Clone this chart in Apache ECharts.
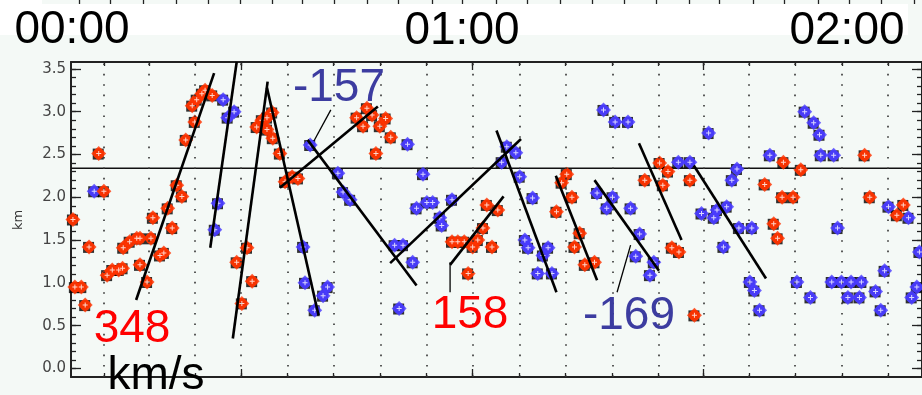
<!DOCTYPE html>
<html>
<head>
<meta charset="utf-8">
<script src="https://cdn.jsdelivr.net/npm/echarts@6/dist/echarts.min.js"></script>
<style>
  html, body { margin: 0; padding: 0; background: #f4f9f6; }
  #chart { width: 922px; height: 395px; }
</style>
</head>
<body>
<div id="chart"></div>
<script>
// x values are minutes after 00:00, y values are heights in km
const gridMinutes = [5.11, 12.08, 19.21, 26.34, 33.62, 40.75, 48.03, 55.16, 62.28,
  69.56, 76.69, 83.97, 91.10, 98.07, 105.20, 112.32, 119.61, 126.73];
const majorMinutes = [26.34, 62.28, 98.07];
const upperTicks = [1.24, 6.04, 11.15, 16.27, 21.23, 26.18, 31.14, 35.94, 40.90, 46.01,
  50.82, 56.08, 60.73, 66.00, 70.80, 75.91, 80.87, 85.83, 90.79, 95.90, 100.55,
  105.82, 110.62, 115.89, 120.69, 125.65, 130.76];
const hourLabels = ["00:00", "01:00", "02:00"];
const yLabels = [0, 0.5, 1, 1.5, 2, 2.5, 3, 3.5];
const yMinor = [0, 0.1, 0.2, 0.3, 0.4, 0.5, 0.6, 0.7, 0.8, 0.9, 1, 1.1, 1.2, 1.3, 1.4,
  1.5, 1.6, 1.7, 1.8, 1.9, 2, 2.1, 2.2, 2.3, 2.4, 2.5, 2.6, 2.7, 2.8, 2.9, 3, 3.1,
  3.2, 3.3, 3.4, 3.5];
const baseHeight = 2.34;

const redPoints = [
  [0.3, 1.74], [0.6, 0.95], [1.6, 0.95], [2.2, 0.74], [2.8, 1.42], [4.3, 2.51], [5.1, 2.07],
  [5.6, 1.09], [6.4, 1.15], [7.4, 1.15], [8.0, 1.17], [8.1, 1.41], [9.1, 1.48], [10.2, 1.52],
  [10.7, 1.52], [10.7, 1.21], [11.8, 1.01], [12.4, 1.52], [12.7, 1.76], [13.8, 1.32],
  [14.4, 1.35], [15.0, 1.87], [15.7, 1.64], [16.4, 2.14], [17.2, 2.01], [17.8, 2.67],
  [19.2, 2.88], [18.8, 3.07], [19.5, 3.14], [20.3, 3.21], [20.8, 3.25], [21.9, 3.19],
  [25.7, 1.24], [27.3, 1.41], [28.1, 1.02], [26.5, 0.76], [28.8, 2.82], [29.6, 2.90],
  [30.4, 2.93], [31.2, 2.99], [30.4, 2.79], [31.3, 2.69], [32.4, 2.51], [33.2, 2.18],
  [34.3, 2.24], [35.2, 2.22], [45.9, 3.04], [44.3, 2.93], [45.3, 2.83], [46.7, 2.96],
  [47.9, 2.83], [48.8, 2.92], [49.6, 2.70], [47.3, 2.51], [59.1, 1.48], [60.0, 1.48],
  [61.0, 1.48], [64.5, 1.91], [66.2, 1.85], [63.9, 1.64], [63.1, 1.50], [62.3, 1.42],
  [65.3, 1.42], [61.6, 1.11], [76.9, 2.27], [76.1, 2.17], [77.7, 2.00], [75.3, 1.83],
  [78.9, 1.58], [78.1, 1.42], [79.7, 1.21], [81.2, 1.24], [91.3, 2.40], [92.6, 2.30],
  [89.0, 2.20], [91.8, 2.14], [96.0, 2.20], [93.2, 1.41], [94.3, 1.36], [96.7, 0.62],
  [110.5, 2.41], [113.2, 2.32], [123.1, 2.49], [107.6, 2.15], [110.3, 2.00], [112.0, 2.00],
  [123.9, 2.00], [109.0, 1.69], [109.6, 1.52], [128.1, 1.79], [129.1, 1.91]
];

const bluePoints = [
  [3.6, 2.07], [23.6, 3.14], [24.3, 2.93], [25.3, 3.00], [22.8, 1.93], [22.3, 1.62],
  [37.1, 2.61], [36.0, 1.42], [36.3, 1.00], [37.8, 0.68], [39.1, 0.85], [39.8, 0.95],
  [41.4, 2.28], [42.2, 2.06], [43.3, 1.97], [52.2, 2.62], [54.6, 2.27], [53.6, 1.87],
  [55.2, 1.94], [56.1, 1.94], [59.1, 1.97], [57.2, 1.76], [57.5, 1.67], [50.2, 1.44],
  [51.5, 1.44], [53.0, 1.24], [50.9, 0.70], [67.6, 2.59], [69.0, 2.52], [66.8, 2.41],
  [69.6, 2.24], [71.6, 1.99], [70.4, 1.50], [70.9, 1.41], [74.0, 1.41], [73.2, 1.32],
  [72.4, 1.11], [74.6, 1.11], [82.6, 3.02], [84.4, 2.88], [86.4, 2.88], [81.6, 2.05],
  [84.0, 2.00], [83.1, 1.87], [86.8, 1.87], [88.2, 1.57], [87.6, 1.31], [90.4, 1.24],
  [89.8, 1.09], [98.9, 2.75], [94.2, 2.41], [96.0, 2.41], [103.3, 2.33], [102.5, 2.20],
  [108.4, 2.49], [113.8, 3.00], [115.2, 2.87], [116.1, 2.73], [116.3, 2.49], [118.3, 2.49],
  [97.8, 1.81], [99.7, 1.76], [100.2, 1.85], [101.7, 1.89], [103.6, 1.64], [105.6, 1.64],
  [101.2, 1.42], [105.3, 1.01], [106.0, 0.91], [106.8, 0.68], [112.6, 1.01], [114.7, 0.83],
  [118.9, 1.64], [118.0, 1.01], [119.5, 1.01], [121.0, 1.01], [122.6, 1.01], [120.5, 0.83],
  [122.3, 0.83], [124.8, 0.90], [126.2, 1.14], [125.6, 0.68], [126.8, 1.89], [129.9, 1.76],
  [131.6, 1.36], [131.2, 0.95], [130.4, 0.83]
];

// fitted tracks, each from one end to the other
const fitLines = [
  [[22.2, 3.45], [10.1, 0.80]],
  [[25.7, 3.58], [21.6, 1.41]],
  [[30.5, 3.35], [25.1, 0.35]],
  [[30.4, 3.28], [38.4, 0.62]],
  [[32.4, 2.11], [47.6, 3.06]],
  [[36.7, 2.67], [53.6, 0.97]],
  [[49.5, 1.23], [69.8, 2.68]],
  [[66.0, 2.78], [75.3, 0.89]],
  [[58.8, 1.21], [67.1, 2.01]],
  [[75.2, 2.25], [81.6, 1.03]],
  [[81.2, 2.20], [91.2, 1.14]],
  [[88.1, 2.63], [94.7, 1.50]],
  [[96.6, 2.37], [107.8, 1.05]]
];
const pointerLines = [
  [[40.3, 3.02], [37.7, 2.66]],
  [[58.8, 1.24], [58.8, 0.89]],
  [[86.8, 1.44], [84.7, 0.89]]
];
const speedLabels = ["348", "-157", "158", "-169"];

const AXIS = "#222";
const RED = "#ff3300";
const BLUE = "#4a3cff";
const PLUS = "path://M2,0h1v2h2v1h-2v2h-1v-2h-2v-1h2z";

const xBase = { type: "value", min: 0, max: 132, splitLine: { show: false }, axisLabel: { show: false } };
const yBase = { type: "value", min: -0.1, max: 3.58, splitLine: { show: false } };

const tickAxis = (base, extra, values, len, showLine) => Object.assign({}, base, extra, {
  axisLine: { show: showLine, onZero: false, lineStyle: { color: AXIS, width: 2 } },
  axisTick: { show: true, inside: true, length: len, customValues: values, lineStyle: { color: AXIS, width: 1.3 } }
});

const markerSeries = (data, color) => [
  { type: "scatter", data, symbol: "rect", symbolSize: 11, symbolOffset: [-0.5, 0.5], itemStyle: { color: "#000" }, z: 3, silent: true },
  { type: "scatter", data, symbol: "diamond", symbolSize: 15, itemStyle: { color }, z: 4, silent: true },
  { type: "scatter", data, symbol: "circle", symbolSize: 11, itemStyle: { color }, z: 4, silent: true },
  { type: "scatter", data, symbol: PLUS, symbolSize: 5, itemStyle: { color: "#fff" }, z: 5, silent: true }
];

const segSeries = (seg, width) => ({
  type: "line", data: seg, symbol: "none", silent: true, z: 6,
  lineStyle: { color: "#000", width }
});

const bigText = (text, x, y, color) => ({
  type: "text", x, y, z: 100,
  style: { text, fontSize: 46, fontFamily: "Liberation Sans", fill: color, align: "center", verticalAlign: "middle" }
});

const chart = echarts.init(document.getElementById("chart"));
chart.setOption({
  animation: false,
  backgroundColor: "#f4f9f6",
  grid: { left: 71, top: 62, right: -1, bottom: 18 },
  xAxis: [
    tickAxis(xBase, { position: "bottom" }, gridMinutes, 4, true),
    tickAxis(xBase, { position: "top" }, gridMinutes, 4, true),
    tickAxis(xBase, { position: "bottom" }, majorMinutes, 8, false),
    tickAxis(xBase, { position: "top" }, majorMinutes, 8, false),
    tickAxis(xBase, { position: "top", offset: 62 }, upperTicks, 4, false)
  ],
  yAxis: [
    Object.assign(tickAxis(yBase, { position: "left" }, yMinor, 5, true), {
      axisLabel: {
        customValues: yLabels, formatter: (v) => v.toFixed(1), margin: 5,
        fontFamily: "DejaVu Sans", fontSize: 15, color: "#444"
      }
    }),
    Object.assign(tickAxis(yBase, { position: "left" }, yLabels, 10, false), { axisLabel: { show: false } }),
    Object.assign(tickAxis(yBase, { position: "right" }, yMinor, 5, true), { axisLabel: { show: false } }),
    Object.assign(tickAxis(yBase, { position: "right" }, yLabels, 10, false), { axisLabel: { show: false } })
  ],
  series: [
    {
      type: "line", data: [[0, baseHeight], [132, baseHeight]], symbol: "none", silent: true, z: 1,
      lineStyle: { color: "#111", width: 1.5 },
      markLine: {
        silent: true, symbol: ["none", "none"], label: { show: false },
        lineStyle: { color: "#333", width: 1.6, type: [1.6, 8.8] },
        data: gridMinutes.map((m) => ({ xAxis: m }))
      }
    },
    ...markerSeries(bluePoints, BLUE),
    ...markerSeries(redPoints, RED),
    ...fitLines.map((s) => segSeries(s, 2.6)),
    ...pointerLines.map((s) => segSeries(s, 1.3))
  ],
  graphic: [
    { type: "rect", shape: { x: 0, y: 4, width: 908, height: 31 }, style: { fill: "#fff" }, z: 0 },
    { type: "rect", shape: { x: 0, y: 0, width: 42, height: 4 }, style: { fill: "#fff" }, z: 0 },
    bigText(hourLabels[0], 72, 30, "#000"),
    bigText(hourLabels[1], 462, 31, "#000"),
    bigText(hourLabels[2], 847, 31, "#000"),
    bigText(speedLabels[0], 132, 329, "#ff0000"),
    bigText(speedLabels[1], 339, 88, "#3c3ca0"),
    bigText(speedLabels[2], 470, 315, "#ff0000"),
    bigText(speedLabels[3], 629, 316, "#3c3ca0"),
    bigText("km/s", 156, 376, "#000"),
    {
      type: "text", x: 19, y: 220, rotation: Math.PI / 2, z: 100,
      style: { text: "km", fontSize: 13, fontFamily: "DejaVu Sans", fill: "#333", align: "center", verticalAlign: "middle" }
    }
  ]
});
</script>
</body>
</html>
